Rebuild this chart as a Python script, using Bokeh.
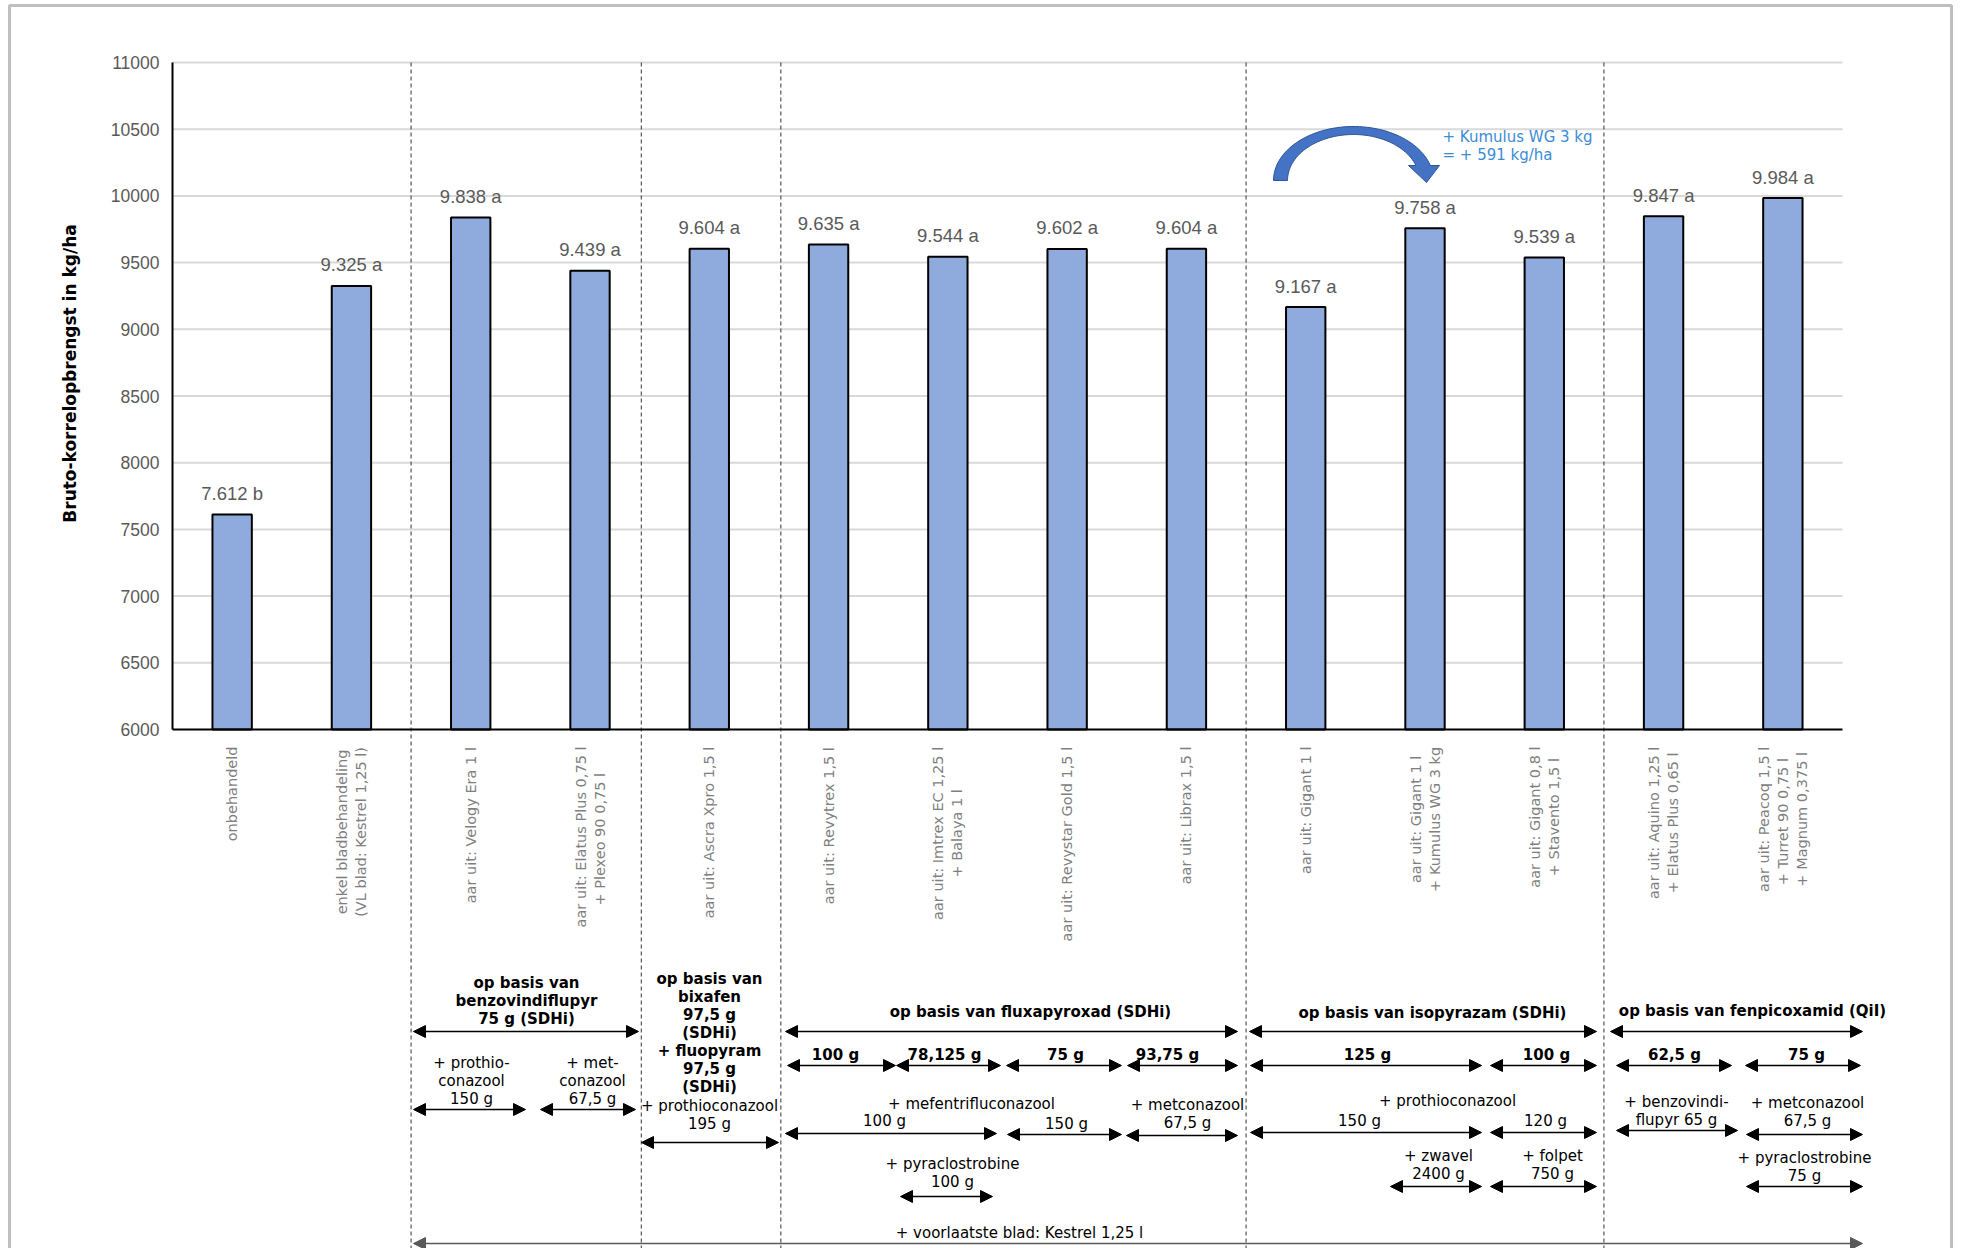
import numpy as np
from bokeh.plotting import figure
from bokeh.models import Range1d, ColumnDataSource, Arrow, NormalHead
from bokeh.core.properties import value
from bokeh.embed import file_html
from bokeh.resources import INLINE

# ---------------- data ----------------
categories = [
    "onbehandeld",
    "enkel bladbehandeling\n(VL blad: Kestrel 1,25 l)",
    "aar uit: Velogy Era 1 l",
    "aar uit: Elatus Plus 0,75 l\n+ Plexeo 90  0,75 l",
    "aar uit: Ascra Xpro 1,5 l",
    "aar uit: Revytrex 1,5 l",
    "aar uit: Imtrex EC 1,25 l\n+ Balaya 1 l",
    "aar uit: Revystar Gold 1,5 l",
    "aar uit: Librax 1,5 l",
    "aar uit: Gigant 1 l",
    "aar uit: Gigant 1 l\n+ Kumulus WG 3 kg",
    "aar uit: Gigant 0,8 l\n+ Stavento 1,5 l",
    "aar uit: Aquino 1,25 l\n+ Elatus Plus 0,65 l",
    "aar uit: Peacoq 1,5 l\n+ Turret 90  0,75 l\n+ Magnum 0,375 l",
]
yields = [7612, 9325, 9838, 9439, 9604, 9635, 9544, 9602, 9604, 9167, 9758, 9539, 9847, 9984]
letters = ["b", "a", "a", "a", "a", "a", "a", "a", "a", "a", "a", "a", "a", "a"]
y_ticks = [6000, 6500, 7000, 7500, 8000, 8500, 9000, 9500, 10000, 10500, 11000]
y_title = "Bruto-korrelopbrengst in kg/ha"
note_text = "+ Kumulus WG 3 kg\n= + 591 kg/ha"

value_labels = [f"{v // 1000}.{v % 1000:03d} {l}" for v, l in zip(yields, letters)]

# ---------------- layout (page pixels) ----------------
W, H = 1955, 1248
OFF = 0  # figure sits at the page origin


def fx(v):
    return v - OFF


def fy(v):
    return v - OFF


X_AXIS_L, X_AXIS_R = fx(172), fx(1842)
Y_TOP, Y_BOT = fy(62), fy(729)
n = len(categories)
ymin, ymax = y_ticks[0], y_ticks[-1]
sx = (X_AXIS_R - X_AXIS_L) / n
sy = (Y_BOT - Y_TOP) / (ymax - ymin)
x_start = -X_AXIS_L / sx
x_end = x_start + W / sx
y_end = ymax + Y_TOP / sy
y_start = ymin - (H - Y_BOT) / sy

p = figure(width=W, height=H, x_range=Range1d(x_start, x_end),
           y_range=Range1d(y_start, y_end), output_backend="svg",
           toolbar_location=None, x_axis_type=None, y_axis_type=None,
           min_border=0, title=None)
p.extra_x_ranges = {"px": Range1d(0, W)}
p.extra_y_ranges = {"px": Range1d(H, 0)}
p.outline_line_color = None
p.background_fill_color = "white"
p.border_fill_color = "white"

xc = [i + 0.5 for i in range(n)]

# outer frame
p.line(x=[fx(9), fx(9), fx(1951), fx(1951)], y=[H + 5, fy(5), fy(5), H + 5],
       x_range_name="px", y_range_name="px", line_color="#bfbfbf", line_width=3)

# gridlines
gt = y_ticks[1:]
p.segment(x0=[0] * len(gt), x1=[n] * len(gt), y0=gt, y1=gt,
          line_color="#d9d9d9", line_width=2)

# group separators
seps = [2, 3.93, 5.1, 9, 12]
p.segment(x0=seps, x1=seps, y0=[ymax] * len(seps), y1=[y_start] * len(seps),
          line_color="#333333", line_width=1, line_dash="4 3")

# bars
src = ColumnDataSource(dict(x=xc, top=yields, lab=value_labels))
p.vbar(x="x", top="top", bottom=ymin, width=0.33, source=src,
       fill_color="#8faadc", line_color="black", line_width=2)

# axis lines
p.segment(x0=[0, 0], x1=[n, 0], y0=[ymin, ymin], y1=[ymin, ymax],
          line_color="black", line_width=2)

# y tick labels
p.text(x=[fx(159)] * len(y_ticks), y=y_ticks, text=[str(t) for t in y_ticks],
       x_range_name="px", text_align="right", text_baseline="middle",
       text_font=value("Liberation Sans"), text_font_size="17.5px",
       text_color="#595959")

# value labels
p.text(x=xc, y=[v + 21 / sy for v in yields], text=value_labels,
       text_align="center", text_baseline="middle",
       text_font=value("Liberation Sans"), text_font_size="18.5px",
       text_color="#595959")

# category labels (rotated, lines centred on each other like Excel)
ADV = {" ": 651, "(": 799, ")": 799, "+": 1716, ",": 651, ".": 651, ":": 690,
       "A": 1401, "B": 1405, "C": 1430, "E": 1294, "G": 1577, "I": 604,
       "K": 1343, "L": 1141, "M": 1767, "P": 1235, "R": 1423, "S": 1300,
       "T": 1251, "V": 1401, "W": 2025, "X": 1405, "a": 1255, "b": 1300,
       "c": 1126, "d": 1300, "e": 1260, "g": 1300, "h": 1298, "i": 569,
       "k": 1186, "l": 569, "m": 1995, "n": 1298, "o": 1253, "p": 1300,
       "q": 1300, "r": 842, "s": 1067, "t": 803, "u": 1298, "v": 1212,
       "x": 1212, "y": 1212, "z": 1075}
CAT_FS = 14.5
LINE_GAP = 19.0


def text_len(s):
    return sum(ADV.get(ch, 1303) for ch in s) / 2048.0 * CAT_FS


lx, ly, lt = [], [], []
for i, lab in enumerate(categories):
    lines = lab.split("\n")
    lmax = max(text_len(s) for s in lines)
    k = len(lines)
    for j, s in enumerate(lines):
        lx.append(xc[i] + (j - (k - 1) / 2) * LINE_GAP / sx)
        ly.append(fy(746) + lmax / 2)
        lt.append(s)
p.text(x=lx, y=ly, text=lt, y_range_name="px", angle=np.pi / 2,
       text_align="center", text_baseline="middle",
       text_font=value("DejaVu Sans"), text_font_size=f"{CAT_FS}px",
       text_color="#7f7f7f")

# y axis title
p.text(x=[fx(69)], y=[fy(373)], text=[y_title], x_range_name="px",
       y_range_name="px", angle=np.pi / 2, text_align="center",
       text_baseline="middle", text_font=value("DejaVu Sans"),
       text_font_size="17px", text_font_style="bold", text_color="black")

# ---------------- lower annotations ----------------
bold_texts = [
    (526, 1000, "op basis van\nbenzovindiflupyr\n75 g (SDHi)"),
    (709, 1032, "op basis van\nbixafen\n97,5 g\n(SDHi)\n+ fluopyram\n97,5 g\n(SDHi)"),
    (1030, 1011, "op basis van fluxapyroxad (SDHi)"),
    (1432, 1012, "op basis van isopyrazam (SDHi)"),
    (1752, 1010, "op basis van fenpicoxamid (QiI)"),
    (835, 1054, "100 g"), (944, 1054, "78,125 g"), (1065, 1054, "75 g"),
    (1167, 1054, "93,75 g"), (1367, 1054, "125 g"), (1546, 1054, "100 g"),
    (1674, 1054, "62,5 g"), (1806, 1054, "75 g"),
]
reg_texts = [
    (471, 1080, "+ prothio-\nconazool\n150 g"),
    (592, 1080, "+ met-\nconazool\n67,5 g"),
    (709, 1114, "+ prothioconazool\n195 g"),
    (971, 1103, "+ mefentrifluconazool"),
    (884, 1120, "100 g"),
    (1066, 1123, "150 g"),
    (1187, 1113, "+ metconazool\n67,5 g"),
    (952, 1172, "+ pyraclostrobine\n100 g"),
    (1447, 1100, "+ prothioconazool"),
    (1359, 1120, "150 g"),
    (1545, 1120, "120 g"),
    (1438, 1164, "+ zwavel\n2400 g"),
    (1552, 1164, "+ folpet\n750 g"),
    (1676, 1110, "+ benzovindi-\nflupyr 65 g"),
    (1807, 1111, "+ metconazool\n67,5 g"),
    (1804, 1166, "+ pyraclostrobine\n75 g"),
    (1019, 1232, "+ voorlaatste blad: Kestrel 1,25 l"),
]
arrows_black = [
    (413, 638, 1031), (785, 1237, 1031), (1249, 1596, 1031), (1610, 1862, 1031),
    (787, 895, 1065), (896, 1000, 1065), (1006, 1121, 1065), (1127, 1237, 1065),
    (1250, 1481, 1065), (1490, 1596, 1065), (1616, 1731, 1065), (1745, 1860, 1065),
    (413, 525, 1109), (540, 635, 1109), (641, 778, 1142),
    (785, 996, 1133), (1007, 1121, 1134), (1126, 1237, 1135), (900, 992, 1196),
    (1250, 1481, 1132), (1490, 1596, 1132), (1390, 1481, 1186), (1490, 1596, 1186),
    (1616, 1737, 1130), (1746, 1862, 1134), (1746, 1862, 1186),
]
arrows_gray = [(413, 1862, 1243)]

for items, style in ((bold_texts, "bold"), (reg_texts, "normal")):
    p.text(x=[fx(a[0]) for a in items], y=[fy(a[1]) for a in items],
           text=[a[2] for a in items], x_range_name="px", y_range_name="px",
           text_align="center", text_baseline="middle",
           text_font=value("DejaVu Sans"), text_font_size="15px",
           text_font_style=style, text_color="black", text_line_height=1.0)


def add_arrows(items, color, lw):
    s = ColumnDataSource(dict(x0=[fx(a[0]) for a in items],
                              x1=[fx(a[1]) for a in items],
                              y=[fy(a[2]) for a in items]))
    arr = Arrow(x_start="x0", y_start="y", x_end="x1", y_end="y", source=s,
                start=NormalHead(size=12, fill_color=color, line_color=color),
                end=NormalHead(size=12, fill_color=color, line_color=color),
                line_color=color, line_width=lw,
                x_range_name="px", y_range_name="px")
    p.add_layout(arr)


add_arrows(arrows_black, "black", 1.5)
add_arrows(arrows_gray, "#595959", 1.5)

# ---------------- curved blue arrow + note ----------------
cx, cy = fx(1353), fy(180)
rxo, ryo, rxi, ryi = 80, 54, 66, 46
rise = 15
t_out = np.linspace(np.pi, np.arcsin(rise / ryo), 60)
t_in = np.linspace(np.arcsin(rise / ryi), np.pi, 60)
ax = list(cx + rxo * np.cos(t_out)) + [fx(1439), fx(1426), fx(1408)] + list(cx + rxi * np.cos(t_in))
ay = list(cy - ryo * np.sin(t_out)) + [fy(165), fy(182), fy(165)] + list(cy - ryi * np.sin(t_in))
p.patch(x=ax, y=ay, x_range_name="px", y_range_name="px",
        fill_color="#4472c4", line_color="#2f5597", line_width=1)

p.text(x=[fx(1442)], y=[fy(145)], text=[note_text], x_range_name="px",
       y_range_name="px", text_align="left", text_baseline="middle",
       text_font=value("DejaVu Sans"), text_font_size="15px",
       text_color="#3a8cd6", text_line_height=1.0)

open("out.html", "w").write(file_html(p, INLINE))
